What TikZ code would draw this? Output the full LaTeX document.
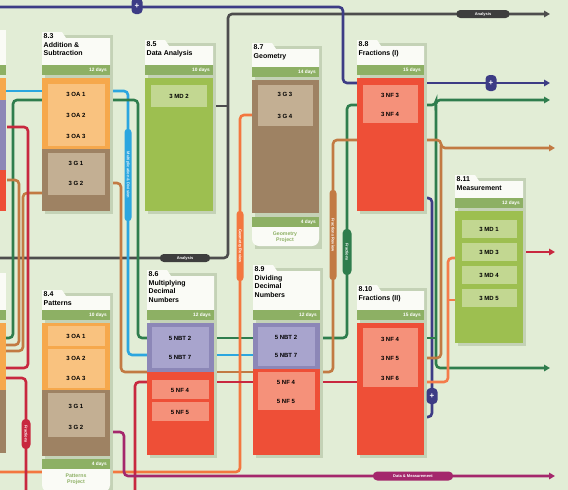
\documentclass[tikz,border=0pt]{standalone}
\usepackage{fontspec}
\setmainfont{Liberation Sans}
\usetikzlibrary{arrows.meta,shapes.misc}
\definecolor{bgc}{HTML}{E2EDD6}
\definecolor{shc}{HTML}{C4D2B6}
\definecolor{tabc}{HTML}{FAFBF6}
\definecolor{barc}{HTML}{8DB064}
\definecolor{orc}{HTML}{F6A84C}
\definecolor{orl}{HTML}{F9C27F}
\definecolor{brc}{HTML}{9E8263}
\definecolor{brl}{HTML}{C3AF93}
\definecolor{gnc}{HTML}{9DBF50}
\definecolor{gnl}{HTML}{C2D791}
\definecolor{rdc}{HTML}{EE4F37}
\definecolor{rdl}{HTML}{F5917A}
\definecolor{puc}{HTML}{8C87B7}
\definecolor{pul}{HTML}{A8A4CD}
\definecolor{navyc}{HTML}{3D3C85}
\definecolor{grayc}{HTML}{4D4D4D}
\definecolor{bluec}{HTML}{2BA6DF}
\definecolor{greenc}{HTML}{2F7D4D}
\definecolor{brownc}{HTML}{C27A43}
\definecolor{orangec}{HTML}{F3773F}
\definecolor{redc}{HTML}{C8283F}
\definecolor{magc}{HTML}{A4276C}
\tikzset{
 ln/.style={line width=2.6pt, rounded corners=4pt},
 arr/.style={-{Triangle[length=6pt,width=6.5pt]}},
 ttl/.style={font=\fontsize{7}{8.6}\selectfont\bfseries, align=left, inner sep=0pt, anchor=north west},
 dys/.style={font=\fontsize{4.8}{5}\selectfont\bfseries, text=white, inner sep=0pt, anchor=east},
 ctx/.style={font=\fontsize{6}{6.5}\selectfont\bfseries, inner sep=0pt},
 prj/.style={font=\fontsize{5.2}{5.8}\selectfont\bfseries, text=barc, align=center, inner sep=0pt},
 capsule/.style={rounded rectangle, inner sep=0.8pt, font=\fontsize{4}{4}\selectfont\bfseries, text=white, minimum height=8pt},
 plusbadge/.style={rectangle, rounded corners=4pt, fill=navyc, text=white, inner sep=0pt, minimum width=11pt, minimum height=16pt, font=\fontsize{8}{8}\selectfont\bfseries},
}
\newcommand\modhead[7]{%
 \fill[tabc] (#2,#4) -- ({#2+20},#4) -- ({#2+24},{#4+6}) -- ({#2+#3},{#4+6}) -- ({#2+#3},#5) -- (#2,#5) -- cycle;
 \node[ttl] (#1t) at ({#2+1.5},{#4+1.5}) {#6};
 \fill[barc] (#2,#5) rectangle ({#2+#3},{#5+10});
 \node[dys] (#1d) at ({#2+#3-3},{#5+5}) {#7};
}
\newcommand\modshadow[4]{\fill[shc] ({#1+2.5},{#3+2.5}) rectangle ({#2+2.5},{#4+2.5});}
\begin{document}
\begin{tikzpicture}[x=1pt,y=-1pt]
\useasboundingbox (0,0) rectangle (568,490);
\clip (0,0) rectangle (568,490);
\fill[bgc] (0,0) rectangle (568,490);
% ---------------- connectors ----------------
% gray
\draw[ln,grayc,arr] (0,258) -- (228,258) -- (228,14) -- (550,14);
\draw[ln,grayc] (213,106) -- (228,106);
% navy
\draw[ln,navyc] (0,7) -- (343,7) -- (343,83) -- (357,83);
\draw[ln,navyc,arr] (424,83) -- (550,83);
\draw[ln,navyc] (424,198) -- (432,198) -- (432,417) -- (424,417);
% blue
\draw[ln,bluec] (0,91) -- (42,91);
\draw[ln,bluec] (110,91) -- (128,91) -- (128,355) -- (147,355);
\draw[ln,bluec] (214,355) -- (253,355);
% green
\draw[ln,greenc] (42,100) -- (13,100) -- (13,338) -- (0,338);
\draw[ln,greenc] (110,100) -- (138,100) -- (138,338) -- (147,338);
\draw[ln,greenc] (214,338) -- (253,338);
\draw[ln,greenc] (320,338) -- (347,338) -- (347,105) -- (357,105);
\draw[ln,greenc,arr] (424,105) -- (436,105) -- (436,100) -- (550,100);
\draw[ln,greenc,arr] (436,105) -- (436,368) -- (550,368);
\draw[ln,greenc] (424,338) -- (436,338);
% brown
\draw[ln,brownc] (7,180) -- (19,180) -- (19,345) -- (0,345);
\draw[ln,brownc] (42,193) -- (23,193) -- (23,351) -- (0,351);
\draw[ln,brownc] (110,183) -- (121,183) -- (121,372) -- (147,372);
\draw[ln,brownc] (214,372) -- (253,372);
\draw[ln,brownc] (320,372) -- (333,372) -- (333,140) -- (357,140);
\draw[ln,brownc,arr] (424,140) -- (441,140) -- (441,148) -- (555,148);
\draw[ln,brownc] (424,358) -- (441,358) -- (441,145);
% orange
\draw[ln,orangec] (252,115) -- (240,115) -- (240,472) -- (0,472);
\draw[ln,orangec!80!rdl] (455,258) -- (448,258) -- (448,382) -- (424,382);
\draw[ln,orangec!80!rdl] (455,300) -- (448,300);
% red
\draw[ln,redc] (7,127) -- (28,127) -- (28,368) -- (0,368);
\draw[ln,redc] (0,378) -- (26,378) -- (26,495);
\draw[ln,redc] (135,495) -- (135,382) -- (147,382);
\draw[ln,redc] (214,382) -- (253,382);
\draw[ln,redc] (320,382) -- (357,382);
\draw[ln,redc,arr] (523,252) -- (555,252);
% magenta
\draw[ln,magc,arr] (110,432) -- (124,432) -- (124,476) -- (555,476);
% ---------------- partial left modules ----------------
\fill[tabc] (-20,30) rectangle (6,65);
\fill[barc] (-20,65) rectangle (6,75);
\fill[orc] (-20,78) rectangle (6,100);
\fill[puc] (-20,100) rectangle (6,170);
\fill[rdc] (-20,170) rectangle (6,211);
\fill[tabc] (-20,273) rectangle (6,310);
\fill[barc] (-20,310) rectangle (6,320);
\fill[orc] (-20,323) rectangle (6,390);
\fill[brc] (-20,390) rectangle (6,453);
% ---------------- 8.3 ----------------
\modshadow{42}{110}{32}{211}
\modhead{ma}{42}{68}{32}{65}{8.3\\Addition \&\\Subtraction}{12 days}
\fill[orc] (42,78) rectangle (110,149);
\fill[orl] (48,84) rectangle (105,146);
\fill[brc] (42,149) rectangle (110,211);
\fill[brl] (48,153) rectangle (105,195);
\node[ctx] (a1) at (76,94) {3 OA 1};
\node[ctx] (a2) at (76,115) {3 OA 2};
\node[ctx] (a3) at (76,136) {3 OA 3};
\node[ctx] (a4) at (76,163) {3 G 1};
\node[ctx] (a5) at (76,183) {3 G 2};
% ---------------- 8.5 ----------------
\modshadow{145}{213}{40}{211}
\modhead{mb}{145}{68}{40}{65}{8.5\\Data Analysis}{10 days}
\fill[gnc] (145,78) rectangle (213,211);
\fill[gnl] (151,85) rectangle (207,107);
\node[ctx] (b1) at (179,96) {3 MD 2};
% ---------------- 8.7 ----------------
\modshadow{252}{319}{43}{246}
\modhead{mc}{252}{67}{43}{67}{8.7\\Geometry}{14 days}
\fill[brc] (252,80) rectangle (319,213);
\fill[brl] (258,85) rectangle (313,126);
\node[ctx] (c1) at (285,94) {3 G 3};
\node[ctx] (c2) at (285,116) {3 G 4};
\fill[barc] (252,217) rectangle (319,227);
\node[dys] (cd2) at (316,222) {4 days};
\fill[tabc] (252,227) -- (252,238) [rounded corners=7pt] -- (252,246) -- (319,246) [sharp corners] -- (319,227) -- cycle;
\node[prj] (cp) at (285,237) {Geometry\\Project};
% ---------------- 8.8 ----------------
\modshadow{357}{424}{40}{211}
\modhead{md}{357}{67}{40}{65}{8.8\\Fractions (I)}{15 days}
\fill[rdc] (357,78) rectangle (424,211);
\fill[rdl] (363,85) rectangle (418,123);
\node[ctx] (d1) at (390,95) {3 NF 3};
\node[ctx] (d2) at (390,114) {3 NF 4};
% ---------------- 8.11 ----------------
\modshadow{455}{523}{175}{343}
\modhead{me}{455}{68}{175}{198}{8.11\\Measurement}{12 days}
\fill[gnc] (455,211) rectangle (523,343);
\fill[gnl] (462,220) rectangle (517,238);
\fill[gnl] (462,243) rectangle (517,261);
\fill[gnl] (462,266) rectangle (517,284);
\fill[gnl] (462,289) rectangle (517,307);
\node[ctx] (e1) at (489,229) {3 MD 1};
\node[ctx] (e2) at (489,252) {3 MD 3};
\node[ctx] (e3) at (489,275) {3 MD 4};
\node[ctx] (e4) at (489,298) {3 MD 5};
% ---------------- 8.4 ----------------
\modshadow{42}{110}{290}{492}
\modhead{mf}{42}{68}{290}{310}{8.4\\Patterns}{10 days}
\fill[orc] (42,323) rectangle (110,390);
\fill[orl] (48,326) rectangle (105,346);
\fill[orl] (48,349) rectangle (105,388);
\fill[brc] (42,390) rectangle (110,456);
\fill[brl] (48,393) rectangle (105,437);
\node[ctx] (f1) at (76,336) {3 OA 1};
\node[ctx] (f2) at (76,358) {3 OA 2};
\node[ctx] (f3) at (76,378) {3 OA 3};
\node[ctx] (f4) at (76,406) {3 G 1};
\node[ctx] (f5) at (76,427) {3 G 2};
\fill[barc] (42,459) rectangle (110,469);
\node[dys] (fd2) at (107,464) {4 days};
\fill[tabc] (42,469) -- (42,484) [rounded corners=7pt] -- (42,492) -- (110,492) [sharp corners] -- (110,469) -- cycle;
\node[prj] (fp) at (76,479) {Patterns\\Project};
% ---------------- 8.6 ----------------
\modshadow{147}{214}{270}{455}
\modhead{mg}{147}{67}{270}{310}{8.6\\Multiplying\\Decimal\\Numbers}{12 days}
\fill[puc] (147,323) rectangle (214,372);
\fill[pul] (152,327) rectangle (209,368);
\fill[rdc] (147,372) rectangle (214,455);
\fill[rdl] (152,380) rectangle (209,399);
\fill[rdl] (152,402) rectangle (209,421);
\node[ctx] (g1) at (180,338) {5 NBT 2};
\node[ctx] (g2) at (180,357) {5 NBT 7};
\node[ctx] (g3) at (180,390) {5 NF 4};
\node[ctx] (g4) at (180,412) {5 NF 5};
% ---------------- 8.9 ----------------
\modshadow{253}{320}{265}{455}
\modhead{mh}{253}{67}{265}{310}{8.9\\Dividing\\Decimal\\Numbers}{12 days}
\fill[puc] (253,323) rectangle (320,369);
\fill[pul] (258,327) rectangle (315,366);
\fill[rdc] (253,369) rectangle (320,455);
\fill[rdl] (258,372) rectangle (315,410);
\node[ctx] (h1) at (286,337) {5 NBT 2};
\node[ctx] (h2) at (286,355) {5 NBT 7};
\node[ctx] (h3) at (286,382) {5 NF 4};
\node[ctx] (h4) at (286,401) {5 NF 5};
% ---------------- 8.10 ----------------
\modshadow{357}{424}{285}{455}
\modhead{mi}{357}{67}{285}{310}{8.10\\Fractions (II)}{15 days}
\fill[rdc] (357,323) rectangle (424,455);
\fill[rdl] (363,328) rectangle (418,387);
\node[ctx] (i1) at (390,339) {3 NF 4};
\node[ctx] (i2) at (390,358) {3 NF 5};
\node[ctx] (i3) at (390,378) {3 NF 6};
% ---------------- capsules ----------------
\node[plusbadge] (p1) at (137,6) {+};
\node[plusbadge] (p2) at (491,83) {+};
\node[plusbadge] (p3) at (432,396) {+};
\node[capsule, fill=grayc!80!black, minimum width=52pt] (q1) at (185,258) {Analysis};
\node[capsule, fill=grayc!80!black, minimum width=55pt] (q2) at (483,14) {Analysis};
\node[capsule, fill=bluec, minimum width=94pt, minimum height=7pt, text=white!85!bluec, rotate=-90] (q3) at (128,175) {Multiplication \& Division};
\node[capsule, fill=orangec, minimum width=72pt, minimum height=7pt, rotate=-90] (q4) at (240,246) {Geometry Review};
\node[capsule, fill=brownc, minimum width=92pt, minimum height=7pt, rotate=-90] (q5) at (333,235) {Fractions Review};
\node[capsule, fill=greenc, minimum width=48pt, minimum height=9pt, rotate=-90] (q6) at (347,252) {Fractions};
\node[capsule, fill=redc, minimum width=32pt, minimum height=9pt, rotate=-90] (q7) at (26,434) {Fractions};
\node[capsule, fill=magc, minimum width=82pt, minimum height=9pt] (q8) at (413,476) {Data \& Measurement};
\end{tikzpicture}
\end{document}
